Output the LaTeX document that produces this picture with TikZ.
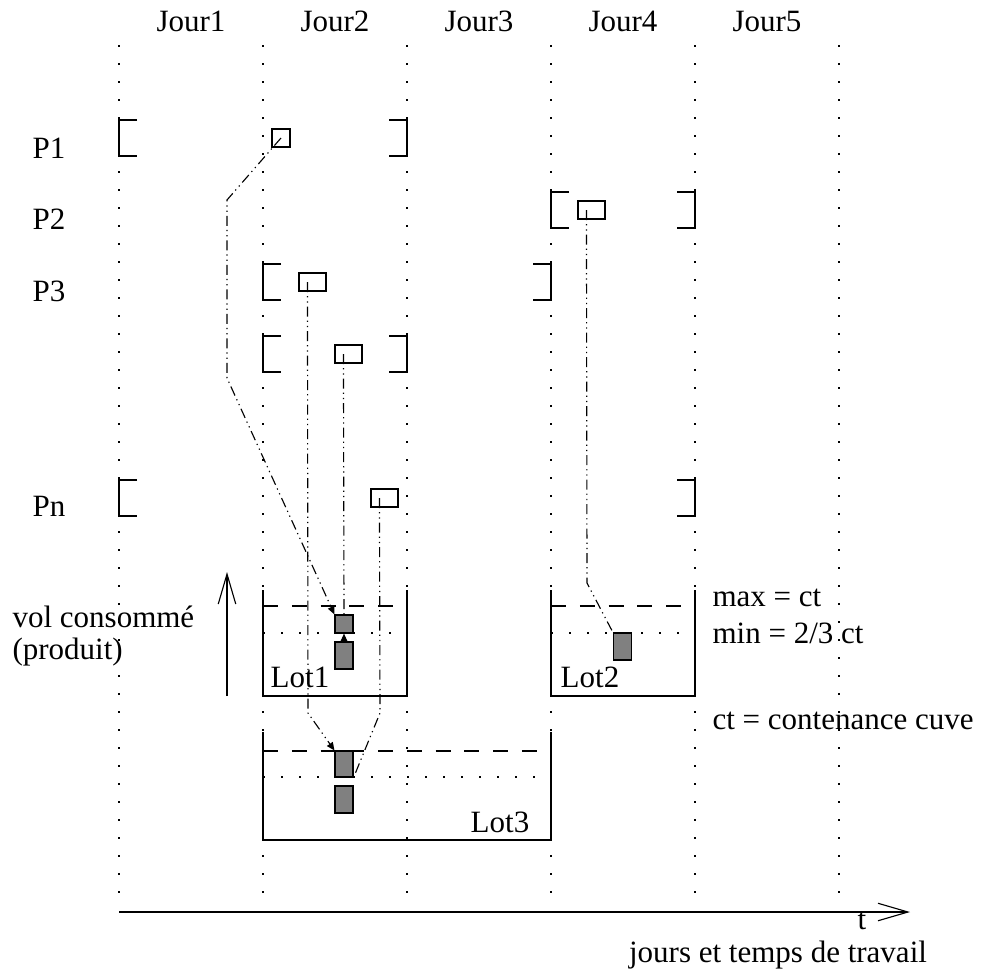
\documentclass[tikz,border=0pt]{standalone}
\usepackage{fontspec}
\setmainfont{Liberation Serif}
\usepackage{tikz}
\usetikzlibrary{arrows.meta, positioning}

\begin{document}
\begin{tikzpicture}[
      x=0.4pt, y=-0.4pt,
      line width=0.45pt,
      every node/.style={font=\fontsize{12.4}{15}\selectfont, inner sep=0pt},
      jourline/.style={dash pattern=on 0.6pt off 6.6pt},
      tache/.style={draw, rectangle, minimum width=10.8pt, minimum height=7.2pt},
      lotbox/.style={draw, fill=black!50, minimum width=7.2pt, minimum height=10.8pt},
      niveaumax/.style={dash pattern=on 6pt off 5.5pt},
      niveaumin/.style={dash pattern=on 0.6pt off 6.6pt},
      lien/.style={dash pattern=on 4pt off 1.6pt on 0.5pt off 1.6pt on 0.5pt off 1.6pt},
      fleche/.style={-{Triangle[length=3.2pt,width=2.8pt]}},
      axe/.style={-{Straight Barb[length=12pt,width=7pt]}}
    ]
      \useasboundingbox (0,0) rectangle (985,974);

      \foreach \i in {1,...,6}
        \draw[jourline] (119+144*\i-144,45) -- (119+144*\i-144,905);
      \foreach \i in {1,...,5}
        \node (jour\i) at (191+144*\i-144,21) {Jour\i};

      \node (p1) at (49,148) {P1};
      \node (p2) at (49,219) {P2};
      \node (p3) at (49,291) {P3};
      \node (pn) at (49,506) {Pn};

      \foreach \y/\l/\r in {138/119/407, 210/551/695, 282/263/551, 354/263/407, 498/119/695} {
        \draw (\l+18,\y-18) -- (\l,\y-18) -- (\l,\y+18) -- (\l+18,\y+18);
        \draw (\r-18,\y-18) -- (\r,\y-18) -- (\r,\y+18) -- (\r-18,\y+18);
      }

      \node[tache, minimum width=7.2pt] (t1) at (281,138) {};
      \node[tache] (t2) at (591.5,210) {};
      \node[tache] (t3) at (312.5,282) {};
      \node[tache] (t4) at (348.5,354) {};
      \node[tache] (tn) at (384.5,498) {};

      \draw (263,590) -- (263,696) -- (407,696) -- (407,590);
      \draw[niveaumax] (263,606) -- (407,606);
      \draw[niveaumin] (263,633) -- (407,633);
      \draw (551,590) -- (551,696) -- (695,696) -- (695,590);
      \draw[niveaumax] (551,606) -- (695,606);
      \draw[niveaumin] (551,633) -- (695,633);
      \draw (263,732) -- (263,840) -- (551,840) -- (551,732);
      \draw[niveaumax] (263,751) -- (551,751);
      \draw[niveaumin] (263,777) -- (551,777);

      \node (lot1) at (300,677) {Lot1};
      \node (lot2) at (590,677) {Lot2};
      \node (lot3) at (500,822) {Lot3};

      \node[lotbox, minimum height=7.2pt] (a1) at (344,624) {};
      \node[lotbox] (a2) at (344,655.5) {};
      \node[lotbox] (b1) at (622.5,646.5) {};
      \node[lotbox, minimum height=10.4pt] (c1) at (344,764) {};
      \node[lotbox] (c2) at (344,799.5) {};

      \draw[lien, fleche] (t1.center) -- (227,200) -- (227,378) -- (a1.north west);
      \draw[lien, fleche] ([xshift=3.6pt]t3.west) -- (308,713) -- (c1.north west);
      \draw[lien] ([xshift=3.6pt]t4.west) -- (a1.north);
      \draw[fleche] (a2.north) -- (a1.south);
      \draw[lien] ([xshift=3.6pt]tn.west) -- (380,713) -- (c1.south east);
      \draw[lien] ([xshift=3.6pt]t2.west) -- (587,583) -- (b1.north west);

      \node[anchor=west] (vol) at (12,617) {vol consommé};
      \node[anchor=west] (produit) at (12,652) {(produit)};
      \coordinate (vbas) at (227,696);
      \coordinate (vhaut) at (227,572);
      \draw[axe] (vbas) -- (vhaut);

      \node[anchor=west] (max) at (712,598) {max = ct};
      \node[anchor=west] (min) at (712,633) {min = 2/3 ct};
      \node[anchor=west] (ct) at (712,721) {ct = contenance cuve};

      \coordinate (origine) at (119,912);
      \coordinate (fin) at (910,912);
      \draw[axe] (origine) -- (fin);
      \node (t) at (862,921) {t};
      \node (travail) at (778,955) {jours et temps de travail};
\end{tikzpicture}
\end{document}
